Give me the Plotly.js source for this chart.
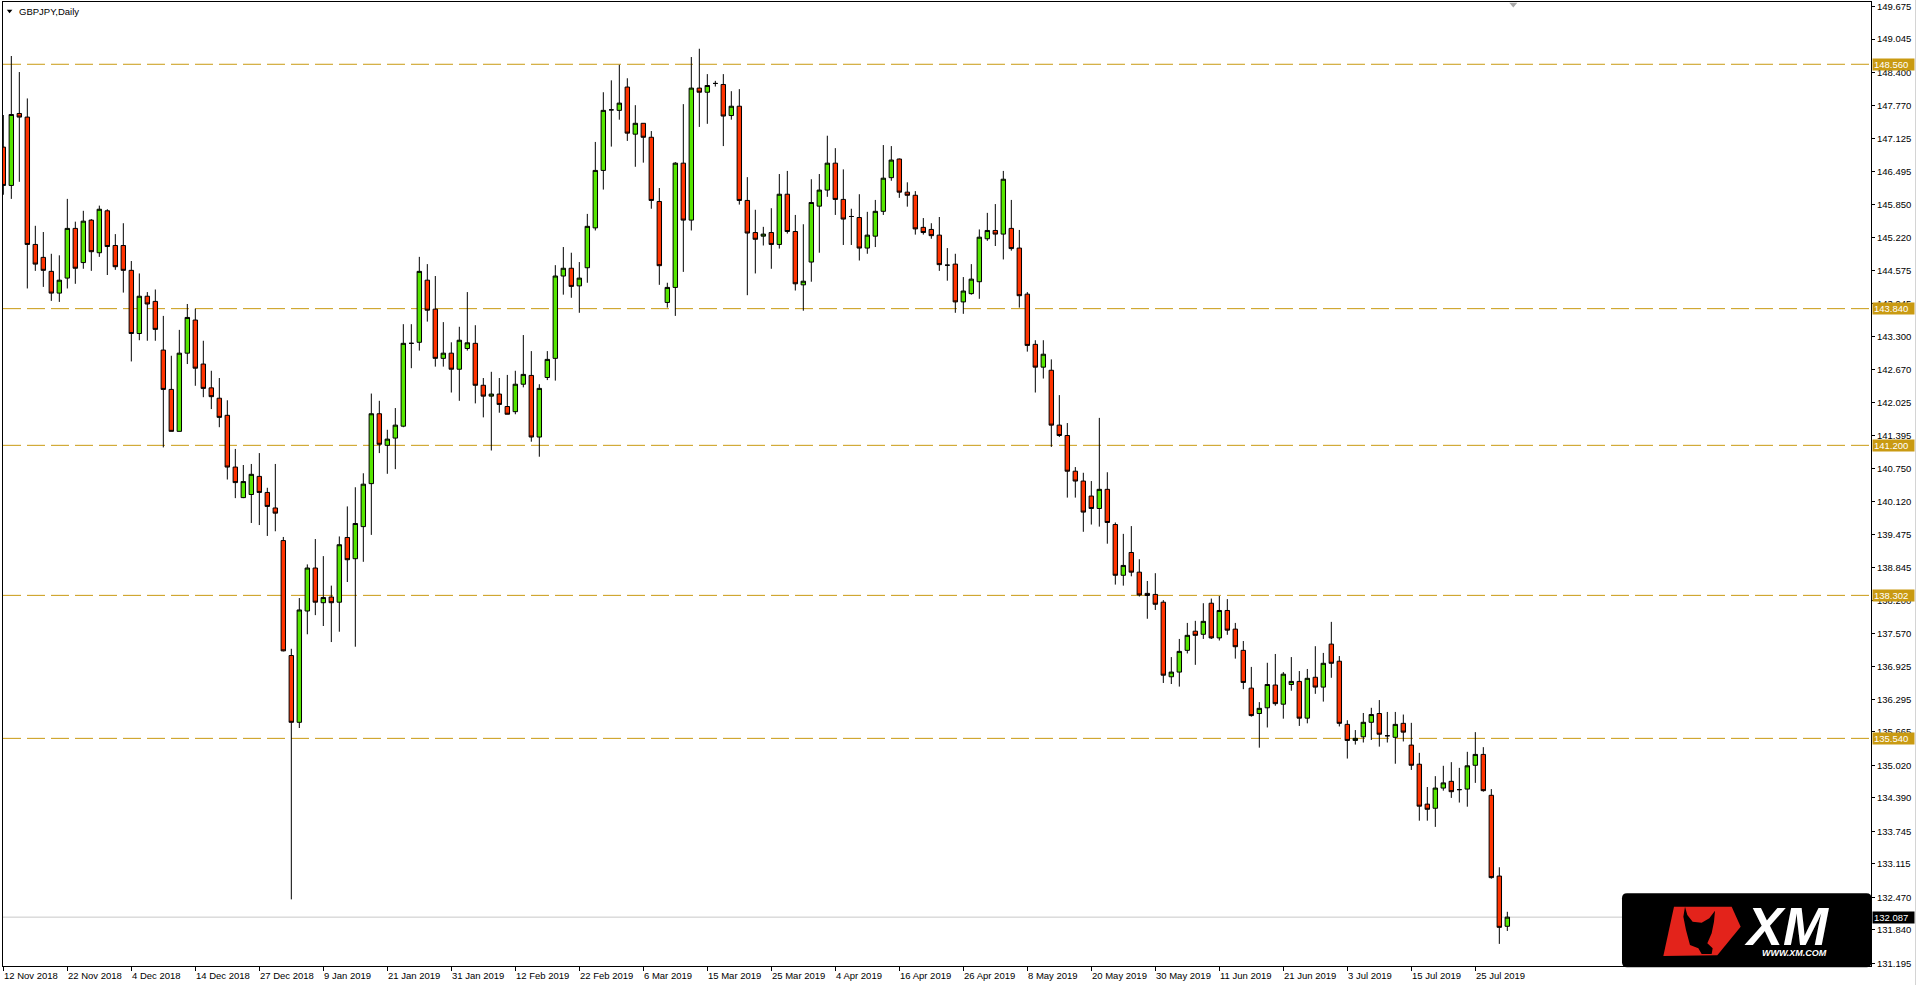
<!DOCTYPE html>
<html>
<head>
<meta charset="utf-8">
<script src="https://cdn.plot.ly/plotly-3.0.1.min.js"></script>
<style>html,body{margin:0;padding:0;background:#fff;}#chart{width:1918px;height:985px;}</style>
</head>
<body>
<div id="chart"></div>
<script>
const symbolTitle = 'GBPJPY,Daily';
const dateLabels = ['12 Nov 2018','22 Nov 2018','4 Dec 2018','14 Dec 2018','27 Dec 2018','9 Jan 2019','21 Jan 2019','31 Jan 2019','12 Feb 2019','22 Feb 2019','6 Mar 2019','15 Mar 2019','25 Mar 2019','4 Apr 2019','16 Apr 2019','26 Apr 2019','8 May 2019','20 May 2019','30 May 2019','11 Jun 2019','21 Jun 2019','3 Jul 2019','15 Jul 2019','25 Jul 2019'];
const barsPerLabel = 8;

const opens = [146.96,146.22,147.61,147.54,145.08,144.83,144.56,144.14,144.43,145.39,
144.73,145.55,144.92,145.73,145.06,145.06,144.58,143.36,144.08,143.98,
143.04,142.28,141.47,142.98,143.62,142.77,142.31,142.11,141.78,140.78,
140.19,140.25,140.60,140.29,139.99,139.36,137.14,135.85,138.00,138.83,
138.16,138.27,138.17,139.42,139.01,139.63,140.46,141.81,141.20,141.34,
141.57,143.17,143.19,144.39,143.83,142.88,142.98,142.67,143.07,143.17,
142.36,142.15,142.19,141.95,141.85,142.38,142.55,141.36,142.51,142.88,
144.47,144.62,144.28,144.63,145.40,146.51,147.68,147.67,148.12,147.21,
147.42,147.15,145.91,143.96,144.25,146.65,145.55,148.10,148.02,148.19,
148.17,147.57,147.75,145.93,145.31,145.24,145.31,145.08,146.05,145.33,
144.30,144.74,145.82,146.13,146.65,145.95,145.62,145.60,145.01,145.24,
145.72,146.37,146.73,146.09,146.03,145.41,145.37,145.26,144.68,144.70,
143.97,144.13,144.36,145.19,145.35,145.28,145.39,145.01,144.12,143.15,
142.71,142.65,141.59,141.39,140.70,140.51,140.22,139.98,140.35,139.67,
138.69,139.13,138.75,138.34,138.32,138.17,136.73,136.82,137.24,137.61,
137.55,138.15,137.48,138.01,137.65,137.24,136.51,136.02,136.13,136.57,
136.20,136.58,136.64,135.93,136.72,136.53,137.36,137.03,135.81,135.50,
135.57,135.85,136.02,135.59,135.56,135.83,135.41,135.04,134.27,134.19,
134.58,134.71,134.55,134.56,135.02,135.23,134.44,132.88,131.91];

const highs = [147.58,148.72,148.41,147.90,145.44,145.32,144.90,144.87,145.96,145.52,
145.73,145.57,145.83,145.76,145.28,145.49,144.76,144.52,144.16,144.21,
143.70,142.93,143.43,143.93,143.84,143.22,142.64,142.50,142.07,141.13,
140.82,140.84,141.05,140.38,140.84,139.43,137.27,138.25,138.90,139.39,
139.06,138.49,139.44,140.02,140.39,140.66,142.20,142.06,141.50,141.92,
143.54,143.54,144.84,144.70,144.47,143.58,143.19,143.49,144.16,143.52,
142.50,142.62,142.50,142.56,142.64,143.33,143.02,142.38,143.02,144.68,
145.03,144.92,144.74,145.67,147.06,148.02,148.25,148.55,148.29,147.77,
147.42,147.27,146.17,144.34,146.67,147.79,148.70,148.86,148.37,148.24,
148.37,148.04,148.08,146.38,145.75,145.42,145.78,146.44,146.50,145.65,
145.47,146.34,146.44,147.18,146.94,146.53,145.77,146.05,145.71,145.94,
147.00,146.98,146.74,146.28,146.11,145.59,145.49,145.61,145.01,144.90,
144.45,144.70,145.37,145.69,145.86,146.50,145.94,145.36,144.16,143.23,
143.23,142.86,142.17,141.63,140.78,140.67,140.51,141.73,140.68,139.71,
139.49,139.64,139.00,138.58,138.73,138.21,137.11,137.46,137.77,137.81,
138.15,138.24,138.29,138.23,137.77,137.42,136.92,136.24,137.00,137.17,
136.82,137.11,136.84,136.88,137.32,137.19,137.79,137.13,135.89,135.70,
136.03,136.13,136.28,136.05,136.05,136.00,135.84,135.26,134.60,134.81,
135.01,135.08,134.97,135.28,135.66,135.37,134.56,133.05,132.19];

const lows = [146.04,145.96,146.29,144.23,144.57,144.26,143.99,143.97,144.23,144.32,
144.61,144.57,144.84,144.49,144.59,144.15,142.82,143.23,143.22,143.22,
141.16,141.47,141.47,142.77,142.35,142.13,141.90,141.55,140.54,140.18,
140.18,139.70,139.66,139.45,139.54,137.22,132.43,135.74,137.55,137.92,
137.71,137.40,137.60,138.56,137.31,138.95,139.47,141.05,140.65,140.74,
141.55,142.69,143.03,143.59,142.72,142.72,142.22,142.06,143.03,142.01,
141.74,141.10,141.83,141.80,141.80,142.32,141.27,140.98,142.46,142.45,
144.11,144.05,143.76,144.34,145.35,146.14,146.97,147.49,147.08,146.58,
146.66,145.77,144.30,143.86,143.70,144.55,145.35,147.35,147.41,148.13,
146.98,147.49,145.85,144.10,144.52,145.06,144.61,145.00,145.29,144.19,
143.80,144.36,144.92,146.00,145.65,145.07,145.07,144.77,144.90,145.03,
145.65,146.31,145.98,145.81,145.27,145.27,145.19,144.57,144.38,143.76,
143.74,144.11,144.03,145.15,145.05,144.79,144.96,143.86,143.01,142.22,
142.49,141.17,141.36,140.19,140.19,139.53,139.67,139.63,139.30,138.51,
138.49,138.67,138.28,137.85,138.02,136.61,136.59,136.54,137.18,136.96,
137.46,137.46,137.43,137.54,137.08,136.49,135.96,135.36,135.75,136.17,
135.92,136.46,135.78,135.83,136.40,136.25,136.71,135.77,135.15,135.42,
135.46,135.51,135.38,135.46,135.05,135.48,134.93,133.95,133.95,133.83,
134.53,134.39,134.30,134.22,134.68,134.51,132.83,131.57,131.82];

const closes = [146.22,147.59,147.54,145.08,144.70,144.58,144.14,144.39,145.39,144.62,
145.53,144.94,145.76,145.04,144.65,144.58,143.36,144.08,143.93,143.44,
142.28,141.47,142.98,143.67,142.69,142.30,142.14,141.74,140.78,140.48,
140.50,140.64,140.29,140.02,139.89,137.23,135.85,138.02,138.83,138.17,
138.26,138.16,139.28,138.99,139.69,140.45,141.81,141.22,141.32,141.59,
143.17,143.17,144.56,143.81,142.88,142.98,142.67,143.23,143.18,142.36,
142.15,142.19,141.99,141.80,142.38,142.57,141.36,142.30,142.86,144.47,
144.62,144.27,144.43,145.43,146.51,147.67,147.68,147.81,147.23,147.42,
147.15,145.93,144.67,144.25,146.65,145.55,148.10,148.02,148.15,148.19,
147.56,147.75,145.93,145.30,145.18,145.28,145.08,146.05,145.33,144.32,
144.37,145.89,146.13,146.65,145.95,145.57,145.62,145.01,145.26,145.72,
146.36,146.71,146.09,146.03,145.38,145.31,145.25,144.69,144.68,143.97,
144.18,144.41,145.22,145.35,145.28,146.34,145.00,144.09,143.13,142.71,
142.96,141.59,141.39,140.70,140.51,139.91,139.98,140.35,139.71,138.69,
138.88,138.75,138.31,138.30,138.13,136.76,136.82,137.22,137.53,137.53,
137.80,137.48,138.01,137.63,137.31,136.62,135.98,136.12,136.58,136.21,
136.78,136.64,135.93,136.70,136.53,136.99,136.99,135.83,135.50,135.54,
135.85,136.00,135.62,135.59,135.81,135.66,135.02,134.23,134.17,134.58,
134.68,134.51,134.55,135.01,135.23,134.53,132.85,131.89,132.087];

const priceTicks = [149.675,149.045,148.400,147.770,147.125,146.495,145.850,145.220,144.575,143.945,143.300,142.670,142.025,141.395,140.750,140.120,139.475,138.845,138.200,137.570,136.925,136.295,135.665,135.020,134.390,133.745,133.115,132.470,131.840,131.195];
const levelLines = [148.560, 143.840, 141.200, 138.302, 135.540];
const bidPrice = 132.087;

// ---- styling / layout helpers ----
const FONT = 'Liberation Sans, Arial, sans-serif';
const GOLD = '#C99A12';
const PLOT_L = 3, PLOT_R = 1871, PLOT_T = 2, PLOT_B = 966;
const PX = x => (x - PLOT_L) / (PLOT_R - PLOT_L);
const PY = y => (PLOT_B - y) / (PLOT_B - PLOT_T);
const pathOf = pts => pts.map((p, k) => (k ? 'L' : 'M') + PX(p[0]).toFixed(5) + ',' + PY(p[1]).toFixed(5)).join(' ') + ' Z';

const xIdx = opens.map((_, i) => i);
const labelIdx = dateLabels.map((_, k) => k * barsPerLabel);
const barPx = 8;
const xMin = -0.04;
const xMax = xMin + (PLOT_R - PLOT_L) / barPx;

const trace = {
  type: 'candlestick',
  x: xIdx, open: opens, high: highs, low: lows, close: closes,
  increasing: {fillcolor: '#55E500', line: {color: '#000000', width: 1}},
  decreasing: {fillcolor: '#FF3300', line: {color: '#000000', width: 1}},
  whiskerwidth: 0,
  hoverinfo: 'skip',
  showlegend: false
};

const shapes = [];
levelLines.forEach(v => shapes.push({type: 'line', xref: 'paper', yref: 'y', x0: 0, x1: 1, y0: v, y1: v,
  line: {color: GOLD, width: 1, dash: '18px,6px'}, layer: 'below'}));
shapes.push({type: 'line', xref: 'paper', yref: 'y', x0: 0, x1: 1, y0: bidPrice, y1: bidPrice,
  line: {color: '#C8C8C8', width: 1}, layer: 'below'});
// right scrollbar edge
shapes.push({type: 'line', xref: 'paper', yref: 'paper', x0: PX(1915.5), x1: PX(1915.5), y0: PY(0), y1: PY(985),
  line: {color: '#D4D4D4', width: 1}});
// chart-shift marker
shapes.push({type: 'path', xref: 'paper', yref: 'paper', path: pathOf([[1509.3,2.8],[1517.3,2.8],[1513.3,7.5]]),
  fillcolor: '#A8A8A8', line: {width: 0}});
// title triangle
shapes.push({type: 'path', xref: 'paper', yref: 'paper', path: pathOf([[6.8,9.8],[12.4,9.8],[9.6,13.2]]),
  fillcolor: '#000000', line: {width: 0}});
// XM logo box
(function () {
  const x0 = 1622, x1 = 1871.5, y0 = 893.3, y1 = 967.2, r = 5;
  const p = (x, y) => PX(x).toFixed(5) + ',' + PY(y).toFixed(5);
  const d = 'M' + p(x0 + r, y0) + ' L' + p(x1 - r, y0) + ' Q' + p(x1, y0) + ' ' + p(x1, y0 + r) +
    ' L' + p(x1, y1 - r) + ' Q' + p(x1, y1) + ' ' + p(x1 - r, y1) +
    ' L' + p(x0 + r, y1) + ' Q' + p(x0, y1) + ' ' + p(x0, y1 - r) +
    ' L' + p(x0, y0 + r) + ' Q' + p(x0, y0) + ' ' + p(x0 + r, y0) + ' Z';
  shapes.push({type: 'path', xref: 'paper', yref: 'paper', path: d, fillcolor: '#000000', line: {width: 0}, layer: 'above'});
  const c = (cx, cy) => [1600 + cx / 3, 880 + cy / 3];
  shapes.push({type: 'path', xref: 'paper', yref: 'paper', layer: 'above', fillcolor: '#E3231B', line: {width: 0},
    path: pathOf([c(222,80), c(395,80), c(422,140), c(352,226), c(190,228)])});
  shapes.push({type: 'path', xref: 'paper', yref: 'paper', layer: 'above', fillcolor: '#000000', line: {width: 0},
    path: pathOf([c(255,80), c(262,105), c(278,125), c(305,128), c(328,115), c(345,92), c(342,125), c(335,160),
      c(322,190), c(338,205), c(335,222), c(305,222), c(295,205), c(270,195), c(258,150), c(250,110)])});
})();

const annotations = [];
annotations.push({xref: 'paper', yref: 'paper', x: PX(17), y: PY(11.5), xanchor: 'left', yanchor: 'middle',
  text: symbolTitle, showarrow: false, font: {family: FONT, size: 9.5, color: '#000'}});
dateLabels.forEach((t, k) => annotations.push({xref: 'x', yref: 'paper', x: labelIdx[k], y: 0, xanchor: 'left', yanchor: 'top',
  xshift: -1, yshift: -2, text: t, showarrow: false, font: {family: FONT, size: 9.5, color: '#000'}}));
levelLines.forEach(v => annotations.push({xref: 'paper', yref: 'y', x: 1, y: v, xanchor: 'left', yanchor: 'middle', xshift: 1,
  text: v.toFixed(3), showarrow: false, bgcolor: GOLD, borderpad: 1, width: 39, height: 9, align: 'left',
  font: {family: FONT, size: 9.5, color: '#FFFFFF'}}));
annotations.push({xref: 'paper', yref: 'y', x: 1, y: bidPrice, xanchor: 'left', yanchor: 'middle', xshift: 1,
  text: bidPrice.toFixed(3), showarrow: false, bgcolor: '#000000', borderpad: 1, width: 39, height: 9, align: 'left',
  font: {family: FONT, size: 9.5, color: '#FFFFFF'}});
annotations.push({xref: 'paper', yref: 'paper', x: PX(1786), y: PY(926), xanchor: 'center', yanchor: 'middle',
  text: '<b><i>XM</i></b>', showarrow: false, font: {family: FONT, size: 54, color: '#FFFFFF'}});
annotations.push({xref: 'paper', yref: 'paper', x: PX(1794), y: PY(952.5), xanchor: 'center', yanchor: 'middle',
  text: '<b><i>WWW.XM.COM</i></b>', showarrow: false, font: {family: FONT, size: 9, color: '#FFFFFF'}});

const layout = {
  width: 1918, height: 985,
  margin: {l: PLOT_L, r: 1918 - PLOT_R, t: PLOT_T, b: 985 - PLOT_B, pad: 0},
  paper_bgcolor: '#FFFFFF', plot_bgcolor: '#FFFFFF',
  showlegend: false,
  boxgap: 0.45, boxgroupgap: 0,
  xaxis: {
    type: 'linear', range: [xMin, xMax], rangeslider: {visible: false},
    showgrid: false, zeroline: false, showline: true, mirror: true, linecolor: '#000', linewidth: 1,
    tickmode: 'array', tickvals: labelIdx, showticklabels: false, ticks: 'outside', ticklen: 4, tickcolor: '#000', tickwidth: 1,
    fixedrange: true
  },
  yaxis: {
    side: 'right', range: [131.143, 149.763],
    showgrid: false, zeroline: false, showline: true, mirror: true, linecolor: '#000', linewidth: 1,
    tickmode: 'array', tickvals: priceTicks, ticktext: priceTicks.map(v => v.toFixed(3)),
    ticks: 'outside', ticklen: 3, tickcolor: '#000', tickwidth: 1,
    tickfont: {family: FONT, size: 9.5, color: '#000'},
    fixedrange: true
  },
  shapes: shapes,
  annotations: annotations
};

Plotly.newPlot('chart', [trace], layout, {displayModeBar: false, staticPlot: true});
</script>
</body>
</html>
